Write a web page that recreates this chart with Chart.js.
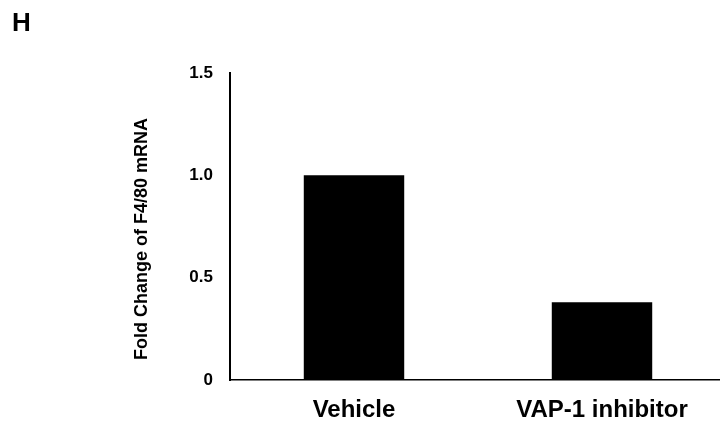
<!DOCTYPE html>
<html>
<head>
<meta charset="utf-8">
<script src="https://cdn.jsdelivr.net/npm/chart.js@4"></script>
<style>
  html, body { margin: 0; padding: 0; background: #fff; }
  #wrap { position: relative; width: 720px; height: 424px; overflow: hidden; }
  #panel { position: absolute; left: 12px; top: 7px; font: bold 26px "Liberation Sans", Arial, sans-serif; color: #000; }
  canvas { position: absolute; left: 0; top: 0; }
</style>
</head>
<body>
<div id="wrap">
  <canvas id="chart" width="726" height="424"></canvas>
  <div id="panel">H</div>
</div>
<script>
// 데이터
const categories = ['Vehicle', 'VAP-1 inhibitor'];
const foldChange = [1.0, 0.38];
const yTicks = [0, 0.5, 1.0, 1.5];
const yTickLabels = ['0', '0.5', '1.0', '1.5'];
const yTitle = 'Fold Change of F4/80 mRNA';

const font = "'Liberation Sans', Arial, sans-serif";

new Chart(document.getElementById('chart'), {
  type: 'bar',
  data: {
    labels: categories,
    datasets: [{
      data: foldChange,
      backgroundColor: '#000',
      borderWidth: 0,
      categoryPercentage: 1,
      barPercentage: 0.405
    }]
  },
  options: {
    responsive: false,
    animation: false,
    layout: { padding: { top: 73, right: 0, bottom: 0, left: 0 } },
    plugins: { legend: { display: false }, tooltip: { enabled: false } },
    scales: {
      x: {
        grid: { display: false, drawTicks: false },
        border: { display: true, color: '#000', width: 1.5 },
        ticks: {
          color: '#000',
          padding: 16,
          font: { family: font, size: 24, weight: 'bold' }
        },
        afterFit: s => { s.height = 44; }
      },
      y: {
        min: 0,
        max: 1.5,
        grid: { display: false, drawTicks: false },
        border: { display: true, color: '#000', width: 2 },
        afterBuildTicks: s => { s.ticks = yTicks.map(v => ({ value: v })); },
        ticks: {
          color: '#000',
          padding: 17,
          font: { family: font, size: 17, weight: 'bold' },
          callback: v => yTickLabels[yTicks.indexOf(v)]
        },
        title: {
          display: true,
          // 끝에 공백을 붙여서 제목을 조금 아래로 내림
          text: yTitle + '\u00a0'.repeat(5),
          color: '#000',
          padding: { top: 131, bottom: 0 },
          font: { family: font, size: 18, weight: 'bold' }
        },
        afterFit: s => { s.width = 230; }
      }
    }
  }
});
</script>
</body>
</html>
